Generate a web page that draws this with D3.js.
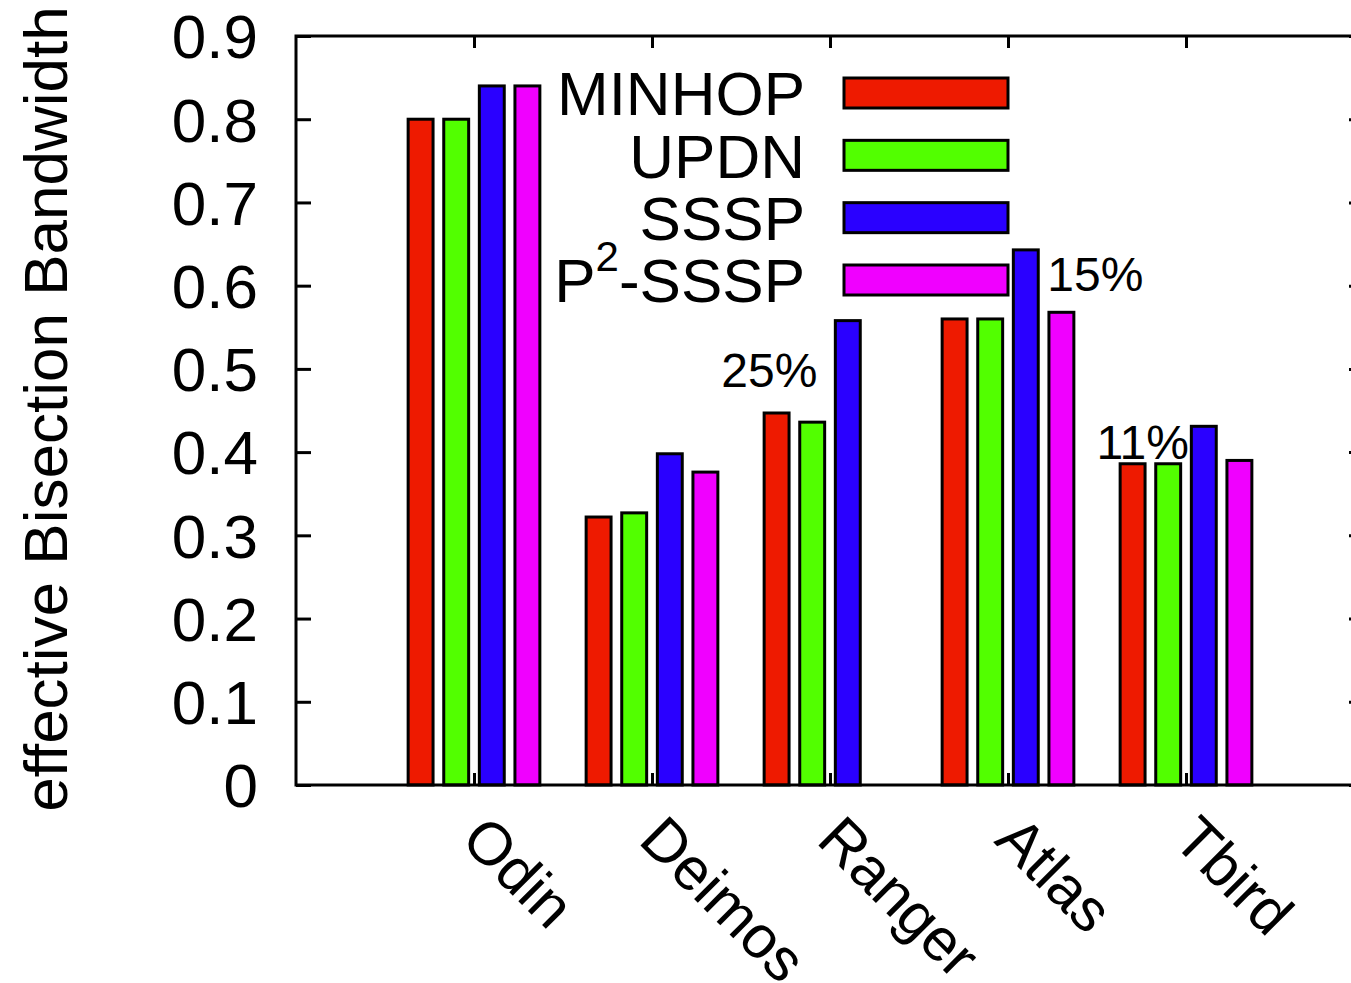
<!DOCTYPE html>
<html>
<head>
<meta charset="utf-8">
<script src="https://cdn.jsdelivr.net/npm/d3@7"></script>
<style>
  body { margin: 0; background: #fff; }
  svg text { font-family: "Liberation Sans", Arial, Helvetica, sans-serif; fill: #000; }
</style>
</head>
<body>
<svg id="chart" width="1351" height="983"></svg>
<script>
// data
var machines = ["Odin", "Deimos", "Ranger", "Atlas", "Tbird"];
var seriesNames = ["MINHOP", "UPDN", "SSSP", "P2-SSSP"];
var minhop = [0.80, 0.322, 0.447, 0.56, 0.386];
var updn   = [0.80, 0.327, 0.436, 0.56, 0.386];
var sssp   = [0.84, 0.398, 0.558, 0.643, 0.431];
var p2sssp = [0.84, 0.376, null, 0.568, 0.39];
var yTicks = [0, 0.1, 0.2, 0.3, 0.4, 0.5, 0.6, 0.7, 0.8, 0.9];
var notes = [ {group: 2, text: "25%"}, {group: 3, text: "15%"}, {group: 4, text: "11%"} ];

var colors = ["#ee1a00", "#52ff00", "#2a00ff", "#f000ff"];
var values = [minhop, updn, sssp, p2sssp];

var svg = d3.select("#chart");

var x = d3.scaleLinear().domain([0, 6]).range([296, 1364]);
var y = d3.scaleLinear().domain([0, 0.9]).range([785, 36]);

var SLOT = 0.2, BARW = 0.14;

// bars
var bars = [];
machines.forEach(function(m, i){
  values.forEach(function(s, j){
    if(s[i] != null) bars.push({g: i, s: j, v: s[i]});
  });
});

svg.selectAll("rect.bar").data(bars).enter().append("rect")
  .attr("class", "bar")
  .attr("x", function(d){ return x(d.g + 1 + (d.s - 1.5) * SLOT - BARW / 2); })
  .attr("width", function(){ return x(BARW) - x(0); })
  .attr("y", function(d){ return y(d.v); })
  .attr("height", function(d){ return y(0) - y(d.v); })
  .attr("fill", function(d){ return colors[d.s]; })
  .attr("stroke", "#000")
  .attr("stroke-width", 3);

// frame
svg.append("rect")
  .attr("x", x(0)).attr("y", y(0.9))
  .attr("width", x(6) - x(0)).attr("height", y(0) - y(0.9))
  .attr("fill", "none").attr("stroke", "#000").attr("stroke-width", 3);

// y ticks (left and mirrored right)
var yAxisL = d3.axisLeft(y).tickValues(yTicks).tickSize(-15).tickFormat("");
svg.append("g").attr("transform", "translate(" + x(0) + ",0)").call(yAxisL)
  .call(function(g){ g.select(".domain").remove(); g.selectAll("line").attr("stroke-width", 3); });
var yAxisR = d3.axisRight(y).tickValues(yTicks).tickSize(-15).tickFormat("");
svg.append("g").attr("transform", "translate(" + x(6) + ",0)").call(yAxisR)
  .call(function(g){ g.select(".domain").remove(); g.selectAll("line").attr("stroke-width", 3); });

svg.selectAll("text.ytl").data(yTicks).enter().append("text")
  .attr("class", "ytl")
  .attr("x", 258)
  .attr("y", function(d){ return y(d); })
  .attr("dy", "0.36em")
  .attr("text-anchor", "end")
  .attr("font-size", 62)
  .text(function(d){ return d === 0 ? "0" : d3.format(".1f")(d); });

// x ticks (bottom and top)
var gIdx = machines.map(function(m, i){ return i + 1; });
var xAxisB = d3.axisBottom(x).tickValues(gIdx).tickSize(-12).tickFormat("");
svg.append("g").attr("transform", "translate(0," + y(0) + ")").call(xAxisB)
  .call(function(g){ g.select(".domain").remove(); g.selectAll("line").attr("stroke-width", 3); });
var xAxisT = d3.axisTop(x).tickValues(gIdx).tickSize(-12).tickFormat("");
svg.append("g").attr("transform", "translate(0," + y(0.9) + ")").call(xAxisT)
  .call(function(g){ g.select(".domain").remove(); g.selectAll("line").attr("stroke-width", 3); });

svg.selectAll("text.xtl").data(machines).enter().append("text")
  .attr("class", "xtl")
  .attr("font-size", 60)
  .attr("transform", function(d, i){ return "translate(" + (x(i + 1) - 15) + ",842) rotate(45)"; })
  .text(function(d){ return d; });

// y axis title
svg.append("text")
  .attr("transform", "translate(67,409) rotate(-90)")
  .attr("text-anchor", "middle")
  .attr("font-size", 62)
  .text("effective Bisection Bandwidth");

// annotations
svg.selectAll("text.note").data(notes).enter().append("text")
  .attr("class", "note")
  .attr("font-size", 48)
  .attr("x", function(d){
    if(d.group === 2) return x(d.group + 1 + 0.5 * SLOT - BARW / 2) - 18;
    if(d.group === 3) return x(d.group + 1 + 0.5 * SLOT + BARW / 2) + 9;
    return x(d.group + 1) + 3;
  })
  .attr("y", function(d){
    if(d.group === 2) return y(sssp[2]) + 66;
    if(d.group === 3) return y(sssp[3]) + 41;
    return y(sssp[4]) + 33;
  })
  .attr("text-anchor", function(d){ return d.group === 2 || d.group === 4 ? "end" : "start"; })
  .text(function(d){ return d.text; });

// legend
var legend = svg.append("g");
var ly = d3.scalePoint().domain(seriesNames).range([93, 280]);
seriesNames.forEach(function(name, j){
  legend.append("rect")
    .attr("x", 844).attr("y", ly(name) - 15)
    .attr("width", 164).attr("height", 30)
    .attr("fill", colors[j]).attr("stroke", "#000").attr("stroke-width", 3);
  var t = legend.append("text")
    .attr("x", 805).attr("y", ly(name))
    .attr("dy", "0.36em")
    .attr("text-anchor", "end")
    .attr("font-size", 62);
  if(name === "P2-SSSP"){
    t.append("tspan").text("P");
    t.append("tspan").attr("font-size", 42).attr("dy", "-0.75em").text("2");
    t.append("tspan").attr("dy", "0.5em").text("-SSSP");
  } else {
    t.text(name);
  }
});
</script>
</body>
</html>
